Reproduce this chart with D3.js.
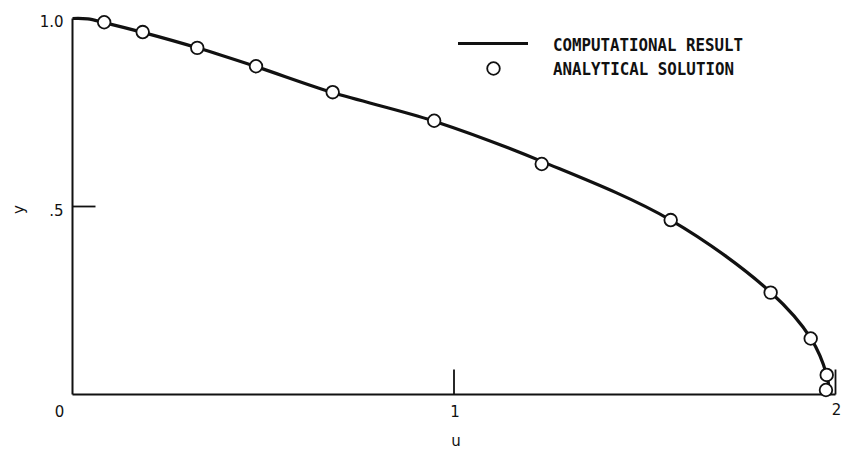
<!DOCTYPE html>
<html>
<head>
<meta charset="utf-8">
<script src="https://cdn.jsdelivr.net/npm/d3@7"></script>
<style>
  html, body { margin: 0; padding: 0; background: #fff; }
  svg { display: block; }
  .tick-label { font-family: "DejaVu Sans", sans-serif; font-size: 15px; fill: #111; }
  .legend-label { font-family: "DejaVu Sans Mono", monospace; font-size: 17px; font-weight: bold; fill: #111; }
</style>
</head>
<body>
<svg id="chart" width="841" height="449"></svg>
<script>
// Computed velocity profile (u, y), traced as a smooth curve
const computedU = [0, 0.040, 0.083, 0.184, 0.327, 0.481, 0.682, 0.948, 1.230, 1.568, 1.830, 1.935, 1.977, 1.984];
const computedY = [1.0, 0.999, 0.989, 0.963, 0.922, 0.872, 0.803, 0.727, 0.620, 0.464, 0.272, 0.150, 0.052, 0.0];

// Analytical solution sample points
const analyticU = [0.083, 0.184, 0.327, 0.481, 0.682, 0.948, 1.230, 1.568, 1.830, 1.935, 1.977, 1.975];
const analyticY = [0.990, 0.964, 0.922, 0.873, 0.804, 0.728, 0.613, 0.464, 0.271, 0.149, 0.052, 0.012];

// Axis ticks
const xTicks = [0, 1, 2];
const xTickLabels = ["0", "1", "2"];
const yTicks = [0.5, 1.0];
const yTickLabels = [".5", "1.0"];

const legendItems = ["COMPUTATIONAL RESULT", "ANALYTICAL SOLUTION"];

const svg = d3.select("#chart");
const x = d3.scaleLinear().domain([0, 2]).range([72.5, 835.5]);
const y = d3.scaleLinear().domain([0, 1]).range([394.5, 18.5]);
const ink = "#111";

// Axes frame: left and bottom lines
svg.append("line")
  .attr("x1", x(0)).attr("x2", x(0))
  .attr("y1", y(0)).attr("y2", y(1))
  .attr("stroke", ink).attr("stroke-width", 2);
svg.append("line")
  .attr("x1", x(0)).attr("x2", x(2))
  .attr("y1", y(0)).attr("y2", y(0))
  .attr("stroke", ink).attr("stroke-width", 1.8);

// Inward ticks on x (at 1 and 2)
xTicks.filter(d => d > 0).forEach(d => {
  svg.append("line")
    .attr("x1", x(d)).attr("x2", x(d))
    .attr("y1", y(0)).attr("y2", y(0) - 25)
    .attr("stroke", ink).attr("stroke-width", 1.8);
});
// Inward tick on y at .5
svg.append("line")
  .attr("x1", x(0)).attr("x2", x(0) + 23)
  .attr("y1", y(0.5)).attr("y2", y(0.5))
  .attr("stroke", ink).attr("stroke-width", 1.8);

// Tick labels
xTicks.forEach((d, i) => {
  svg.append("text")
    .attr("class", "tick-label")
    .attr("x", x(d) + (d === 0 ? -13 : 1))
    .attr("y", y(0) + (d === 2 ? 20 : 22))
    .attr("text-anchor", "middle")
    .text(xTickLabels[i]);
});
yTicks.forEach((d, i) => {
  svg.append("text")
    .attr("class", "tick-label")
    .attr("x", x(0) - 9)
    .attr("y", y(d) + (d === 1 ? 8 : 9))
    .attr("text-anchor", "end")
    .text(yTickLabels[i]);
});

// Axis titles
svg.append("text")
  .attr("class", "tick-label")
  .attr("x", x(1) + 2).attr("y", 446)
  .attr("text-anchor", "middle")
  .text("u");
svg.append("text")
  .attr("class", "tick-label")
  .attr("transform", `translate(24, ${y(0.5) + 3}) rotate(-90)`)
  .attr("text-anchor", "middle")
  .text("y");

// Computed curve
const computed = computedU.map((u, i) => ({ u, y: computedY[i] }));
const line = d3.line()
  .x(d => x(d.u))
  .y(d => y(d.y))
  .curve(d3.curveCatmullRom.alpha(0.5));
svg.append("path")
  .datum(computed)
  .attr("d", line)
  .attr("fill", "none")
  .attr("stroke", ink)
  .attr("stroke-width", 3.2)
  .attr("stroke-linejoin", "round");

// Analytical points
const analytic = analyticU.map((u, i) => ({ u, y: analyticY[i] }));
svg.selectAll("circle.pt")
  .data(analytic)
  .join("circle")
  .attr("class", "pt")
  .attr("cx", d => x(d.u))
  .attr("cy", d => y(d.y))
  .attr("r", 6.3)
  .attr("fill", "#fff")
  .attr("stroke", ink)
  .attr("stroke-width", 1.8);

// Legend
const legend = svg.append("g");
legend.append("line")
  .attr("x1", 458).attr("x2", 528)
  .attr("y1", 43.5).attr("y2", 43.5)
  .attr("stroke", ink).attr("stroke-width", 3.2);
legend.append("circle")
  .attr("cx", 493.5).attr("cy", 68.5).attr("r", 6.3)
  .attr("fill", "#fff").attr("stroke", ink).attr("stroke-width", 1.8);
legend.selectAll("text")
  .data(legendItems)
  .join("text")
  .attr("class", "legend-label")
  .attr("x", 553)
  .attr("y", (d, i) => 51 + i * 23.5)
  .attr("textLength", (d, i) => i === 0 ? 190 : 181)
  .attr("lengthAdjust", "spacingAndGlyphs")
  .text(d => d);
</script>
</body>
</html>
